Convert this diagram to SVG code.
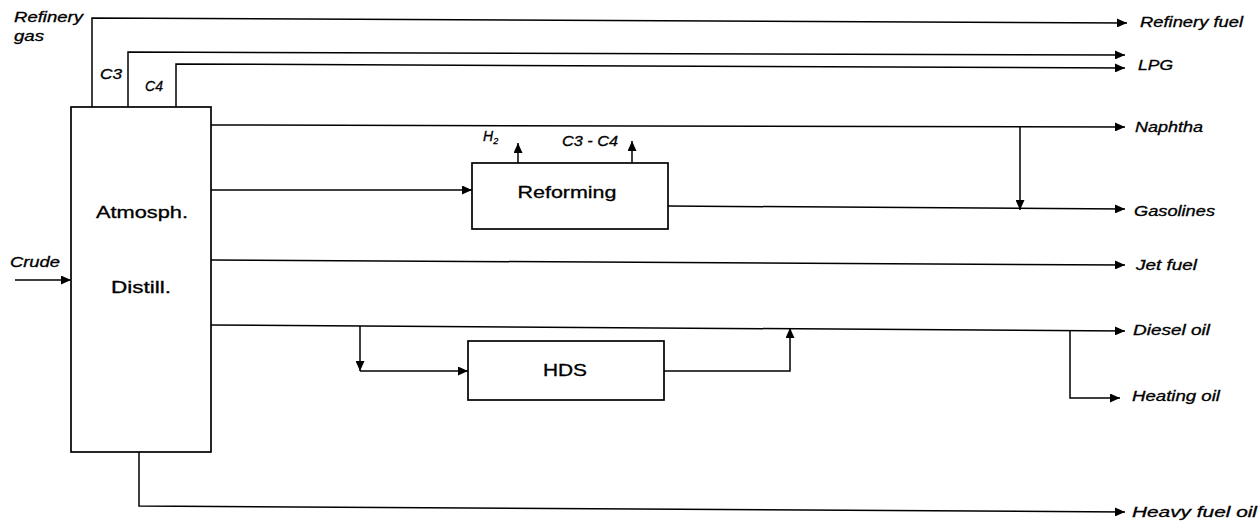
<svg xmlns="http://www.w3.org/2000/svg" width="1258" height="524" viewBox="0 0 1258 524">
<style>
.ln{fill:none;stroke:#000;stroke-width:1.5}
.box{fill:#fff;stroke:#000;stroke-width:1.7}
.lab{font-family:"Liberation Sans",Arial,sans-serif;font-style:italic;font-size:14px;fill:#000;stroke:#000;stroke-width:0.3}
.big{font-family:"Liberation Sans",Arial,sans-serif;font-size:16px;fill:#000;stroke:#000;stroke-width:0.3}
</style>
<defs>
<marker id="ah" markerUnits="userSpaceOnUse" markerWidth="11" markerHeight="9" refX="10" refY="4.5" orient="auto">
<path d="M0,0 L10,4.5 L0,9 Z" fill="#000"/>
</marker>
</defs>
<rect width="1258" height="524" fill="#fff"/>
<g id="connectors">
<polyline class="ln" points="92,107 92,18 1127,23" marker-end="url(#ah)"/>
<polyline class="ln" points="128,107 128,52 1125,55" marker-end="url(#ah)"/>
<polyline class="ln" points="176,107 176,64 1125,68" marker-end="url(#ah)"/>
<line class="ln" x1="211" y1="125" x2="1125" y2="127" marker-end="url(#ah)"/>
<line class="ln" x1="1020" y1="126" x2="1020" y2="210" marker-end="url(#ah)"/>
<line class="ln" x1="211" y1="190" x2="472" y2="190" marker-end="url(#ah)"/>
<line class="ln" x1="518" y1="163" x2="518" y2="143" marker-end="url(#ah)"/>
<line class="ln" x1="632" y1="163" x2="632" y2="141" marker-end="url(#ah)"/>
<line class="ln" x1="668" y1="206" x2="1125" y2="209" marker-end="url(#ah)"/>
<line class="ln" x1="211" y1="260" x2="1125" y2="265" marker-end="url(#ah)"/>
<line class="ln" x1="15" y1="280" x2="71" y2="280" marker-end="url(#ah)"/>
<line class="ln" x1="211" y1="325" x2="1125" y2="331" marker-end="url(#ah)"/>
<polyline class="ln" points="360,326 360,371" marker-end="url(#ah)"/>
<polyline class="ln" points="360,371 468,371" marker-end="url(#ah)"/>
<polyline class="ln" points="664,371 790,371 790,328" marker-end="url(#ah)"/>
<polyline class="ln" points="1070,330 1070,398 1120,398" marker-end="url(#ah)"/>
<polyline class="ln" points="139,452 139,506 1125,512" marker-end="url(#ah)"/>
</g>
<g id="distillation">
<rect class="box" x="71" y="107" width="140" height="345"/>
<text class="big" x="142" y="218" text-anchor="middle" textLength="92" lengthAdjust="spacingAndGlyphs">Atmosph.</text>
<text class="big" x="141" y="293" text-anchor="middle" textLength="60" lengthAdjust="spacingAndGlyphs">Distill.</text>
</g>
<g id="reforming">
<rect class="box" x="472" y="163" width="196" height="66"/>
<text class="big" x="567" y="198" text-anchor="middle" textLength="99" lengthAdjust="spacingAndGlyphs">Reforming</text>
</g>
<g id="hds">
<rect class="box" x="468" y="341" width="196" height="59"/>
<text class="big" x="565" y="376" text-anchor="middle" textLength="44" lengthAdjust="spacingAndGlyphs">HDS</text>
</g>
<g id="labels">
<text class="lab" x="14" y="22" textLength="69" lengthAdjust="spacingAndGlyphs">Refinery</text>
<text class="lab" x="14" y="41" textLength="30" lengthAdjust="spacingAndGlyphs">gas</text>
<text class="lab" x="100" y="79" textLength="22" lengthAdjust="spacingAndGlyphs">C3</text>
<text class="lab" x="145" y="91" textLength="18" lengthAdjust="spacingAndGlyphs">C4</text>
<text class="lab" x="10" y="267" textLength="50" lengthAdjust="spacingAndGlyphs">Crude</text>
<text class="lab" x="483" y="141">H<tspan font-size="9" dy="3">2</tspan></text>
<text class="lab" x="562" y="146" textLength="56" lengthAdjust="spacingAndGlyphs">C3 - C4</text>
<text class="lab" x="1140" y="27" textLength="103" lengthAdjust="spacingAndGlyphs">Refinery fuel</text>
<text class="lab" x="1138" y="70" textLength="35" lengthAdjust="spacingAndGlyphs">LPG</text>
<text class="lab" x="1135" y="132" textLength="68" lengthAdjust="spacingAndGlyphs">Naphtha</text>
<text class="lab" x="1134" y="216" textLength="81" lengthAdjust="spacingAndGlyphs">Gasolines</text>
<text class="lab" x="1136" y="270" textLength="61" lengthAdjust="spacingAndGlyphs">Jet fuel</text>
<text class="lab" x="1133" y="335" textLength="77" lengthAdjust="spacingAndGlyphs">Diesel oil</text>
<text class="lab" x="1132" y="401" textLength="88" lengthAdjust="spacingAndGlyphs">Heating oil</text>
<text class="lab" x="1132" y="517" textLength="125" lengthAdjust="spacingAndGlyphs">Heavy fuel oil</text>
</g>
</svg>
